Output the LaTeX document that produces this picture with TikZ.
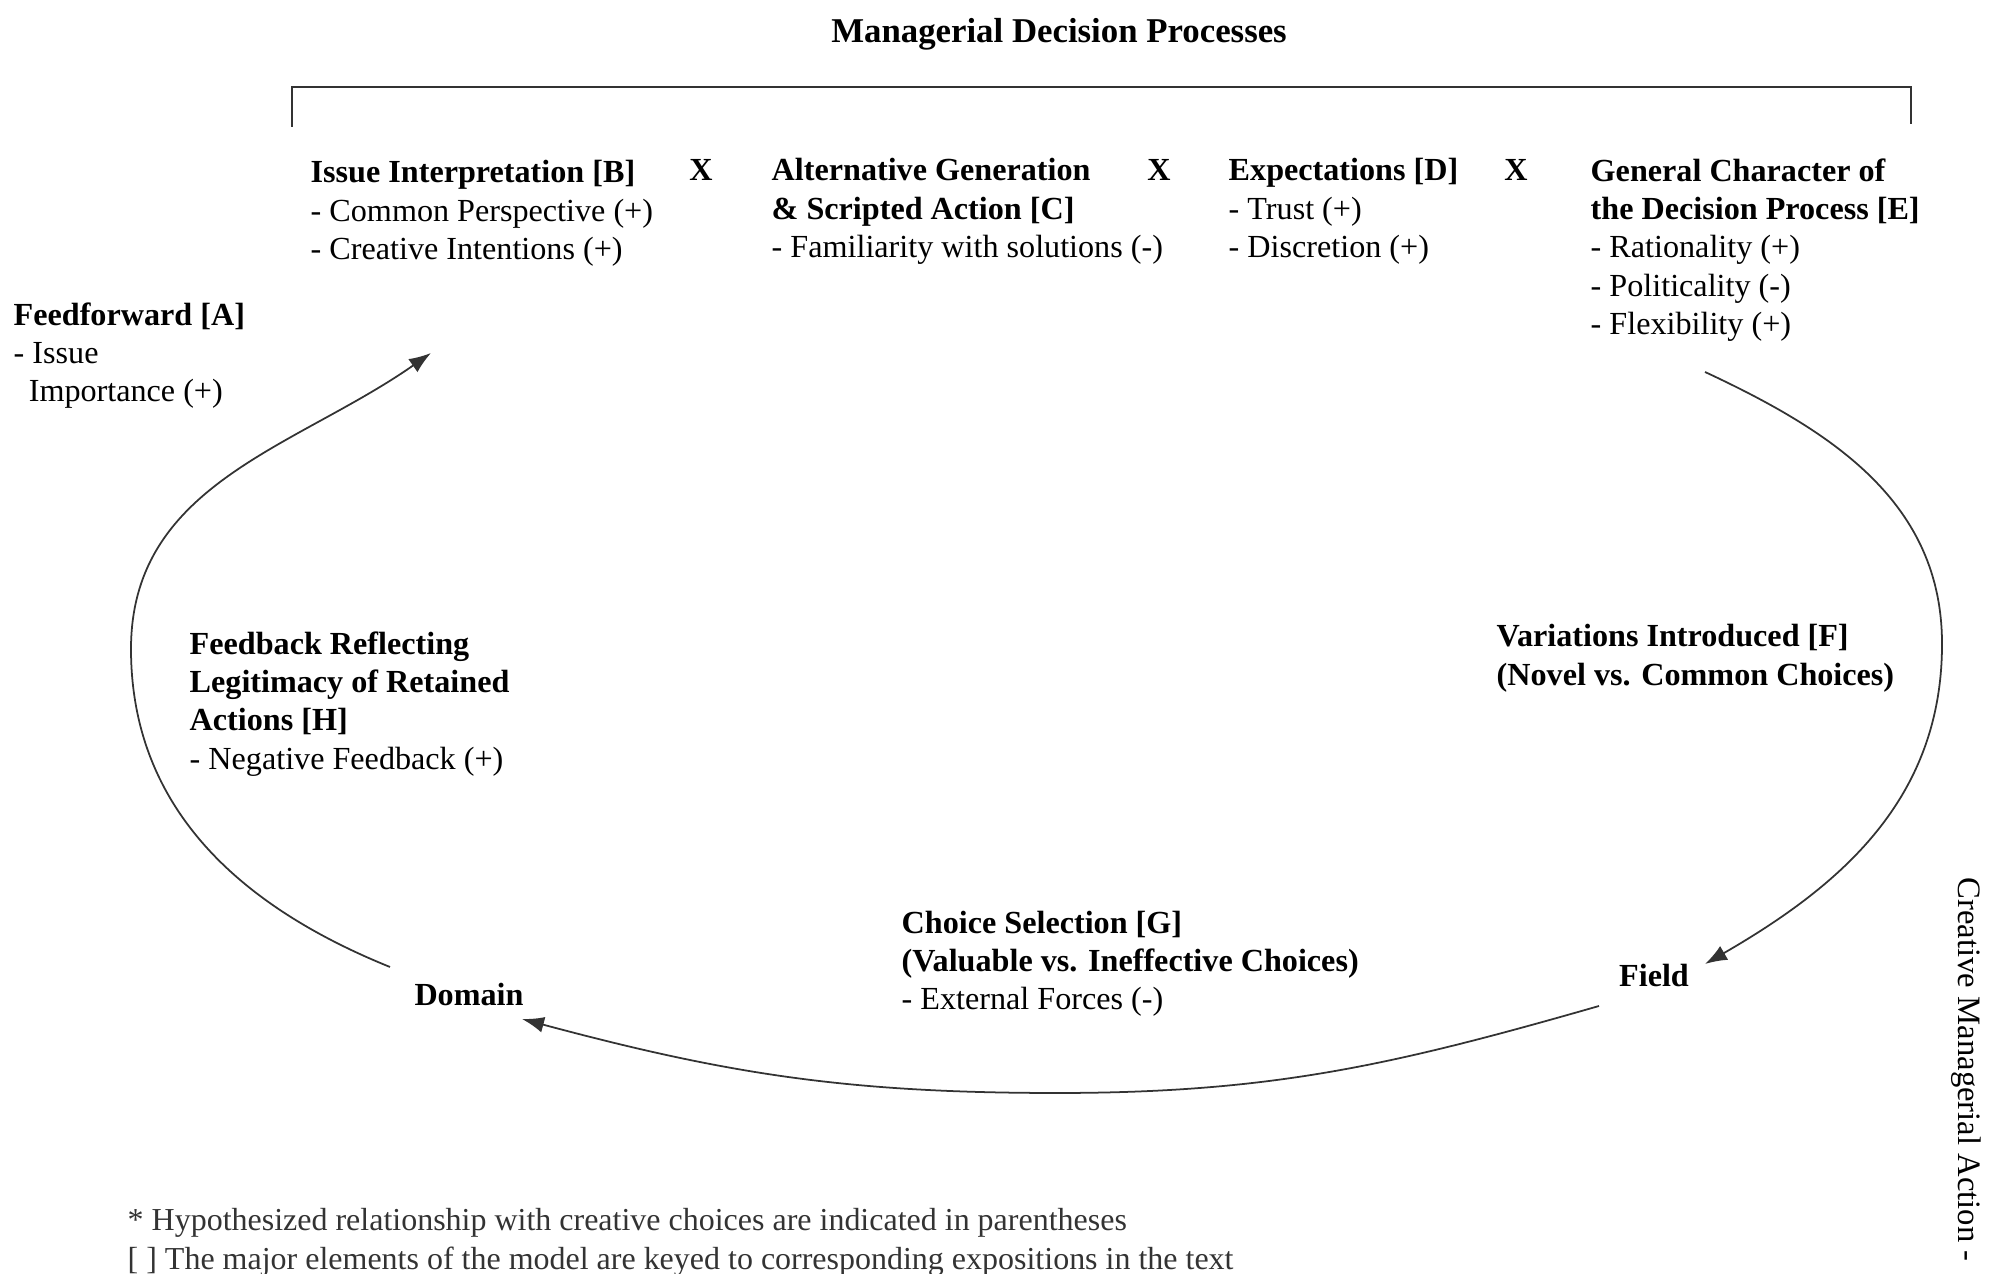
\documentclass[tikz,border=0pt]{standalone}
\usepackage{fontspec}
\setmainfont{Liberation Serif}
\usetikzlibrary{arrows.meta}

\begin{document}
\begin{tikzpicture}[
    txt/.style={align=left, anchor=north west, inner sep=0pt, font=\fontsize{9.15}{10.9}\selectfont},
    lbl/.style={inner sep=0pt, font=\fontsize{9.15}{10.9}\selectfont\bfseries},
    flow/.style={line width=0.5pt, black!80, -{Latex[length=2.2mm,width=1.6mm]}}
]
    \useasboundingbox (0,0) rectangle (19.98,12.74);
    % Title and bracket over the decision elements
    \node[lbl, font=\fontsize{9.9}{11}\selectfont\bfseries] (title) at (10.59,12.40) {Managerial Decision Processes};
    \draw[line width=0.6pt, black!80] (2.92,11.47) -- (2.92,11.87) -- (19.11,11.87) -- (19.11,11.50);
    % Decision elements
    \node[txt] (issue) at (3.10,11.14) {\textbf{Issue Interpretation [B]}\\- Common Perspective (+)\\- Creative Intentions (+)};
    \node[lbl] (x1) at (7.01,11.04) {X};
    \node[txt] (altgen) at (7.71,11.16) {\textbf{Alternative Generation}\\\textbf{\& Scripted Action [C]}\\- Familiarity with solutions (-)};
    \node[lbl] (x2) at (11.59,11.04) {X};
    \node[txt] (expect) at (12.28,11.16) {\textbf{Expectations [D]}\\- Trust (+)\\- Discretion (+)};
    \node[lbl] (x3) at (15.16,11.04) {X};
    \node[txt] (charac) at (15.90,11.16) {\textbf{General Character of}\\\textbf{the Decision Process [E]}\\- Rationality (+)\\- Politicality (-)\\- Flexibility (+)};
    % Labels round the cycle
    \node[txt] (feedfwd) at (0.13,9.72) {\textbf{Feedforward [A]}\\- Issue\\\hspace*{4.3pt}Importance (+)};
    \node[txt] (variat) at (14.96,6.50) {\textbf{Variations Introduced [F]}\\\textbf{(Novel vs. Common Choices)}};
    \node[txt] (choice) at (9.01,3.64) {\textbf{Choice Selection [G]}\\\textbf{(Valuable vs. Ineffective Choices)}\\- External Forces (-)};
    \node[txt] (feedbk) at (1.89,6.43) {\textbf{Feedback Reflecting}\\\textbf{Legitimacy of Retained}\\\textbf{Actions [H]}\\- Negative Feedback (+)};
    \node[lbl] (field) at (16.54,2.98) {Field};
    \node[lbl] (domain) at (4.69,2.79) {Domain};
    % Cycle
    \coordinate (eOut) at (17.05,9.02);
    \coordinate (rightPt) at (19.42,6.30);
    \coordinate (fieldIn) at (17.05,3.10);
    \coordinate (fieldOut) at (15.99,2.68);
    \coordinate (bottomPt) at (10.57,1.81);
    \coordinate (domainIn) at (5.22,2.55);
    \coordinate (domainOut) at (3.90,3.07);
    \coordinate (leftPt) at (1.31,6.25);
    \coordinate (issueIn) at (4.31,9.21);
    \draw[flow] (eOut) to[out=-25,in=90] (rightPt) to[out=-90,in=30] (fieldIn);
    \draw[flow] (fieldOut) to[out=196,in=0] (bottomPt) to[out=180,in=-15] (domainIn);
    \draw[flow] (domainOut) to[out=158,in=-90] (leftPt) to[out=90,in=-145] (issueIn);
    % Notes
    \node[txt, black!80, font=\fontsize{9.1}{10.9}\selectfont] (notes) at (1.27,0.66) {* Hypothesized relationship with creative choices are indicated in parentheses\\\relax[ ] The major elements of the model are keyed to corresponding expositions in the text};
    \node[rotate=-90, anchor=west, inner sep=0pt, font=\fontsize{9.3}{11}\selectfont] (side) at (19.66,3.97) {Creative Managerial Action -};
\end{tikzpicture}
\end{document}
